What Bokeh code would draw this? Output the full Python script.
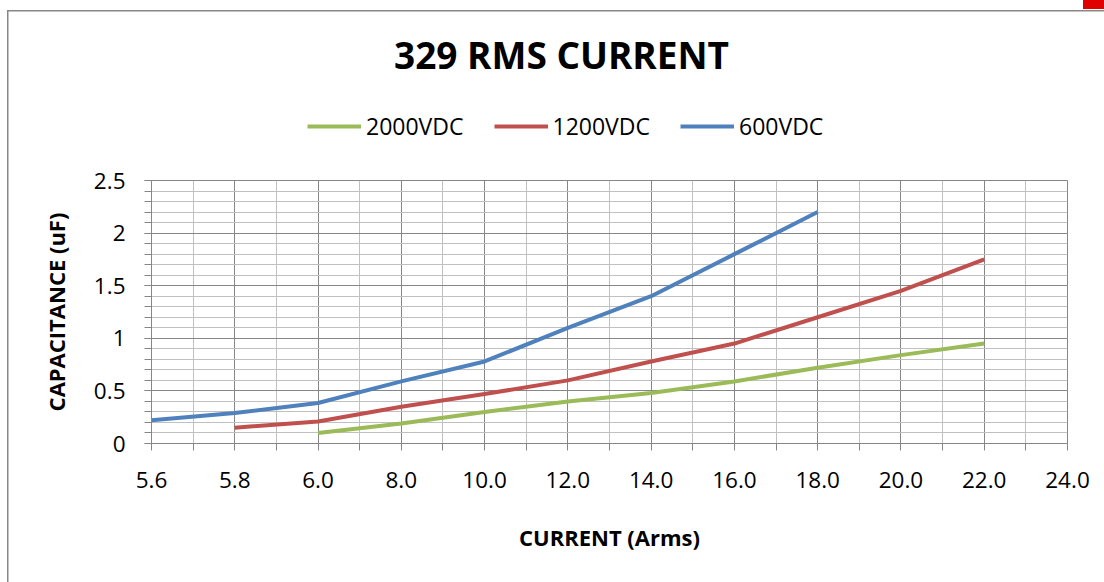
from bokeh.plotting import figure
from bokeh.layouts import column
from bokeh.models import (ColumnDataSource, Range1d, FixedTicker, NumeralTickFormatter,
                          Legend, LegendItem, Label)
from bokeh.embed import file_html
from bokeh.resources import INLINE

# ---- data ----
categories = ["5.6", "5.8", "6.0", "8.0", "10.0", "12.0", "14.0", "16.0", "18.0", "20.0", "22.0", "24.0"]
nan = float("nan")
vdc2000 = [nan, nan, 0.10, 0.19, 0.30, 0.40, 0.48, 0.59, 0.72, 0.84, 0.95, nan]
vdc1200 = [nan, 0.15, 0.21, 0.35, 0.47, 0.60, 0.78, 0.95, 1.20, 1.45, 1.75, nan]
vdc600 = [0.22, 0.29, 0.385, 0.59, 0.78, 1.10, 1.40, 1.80, 2.20, nan, nan, nan]
y_ticks = [0, 0.5, 1.0, 1.5, 2.0, 2.5]
series_names = ["2000VDC", "1200VDC", "600VDC"]
series_colors = ["#9BBB59", "#C0504D", "#4F81BD"]
title_text = "329 RMS CURRENT"
x_title = "CURRENT (Arms)"
y_title = "CAPACITANCE (uF)"

FONT = "Open Sans"
MAJOR = "#868686"
MINOR = "#C0C0C0"
LW = 4
FRAME_LEFT = 151

# ---------------- header (title + legend) ----------------
HEAD_H = 160
head = figure(width=1104, height=HEAD_H, output_backend="svg", toolbar_location=None,
              x_axis_type=None, y_axis_type=None,
              x_range=Range1d(0, 1104), y_range=Range1d(0, HEAD_H),
              min_border=0, min_border_left=0, min_border_right=0,
              min_border_top=0, min_border_bottom=0)
head.grid.visible = False
head.outline_line_color = None
head.background_fill_alpha = 0
head.border_fill_alpha = 0

# legend-only renderers (a single empty point, nothing is drawn in the header itself)
leg_renderers = [head.line(x=[nan], y=[nan], line_color=c, line_width=LW) for c in series_colors]
legend = Legend(items=[LegendItem(label=n, renderers=[r]) for n, r in zip(series_names, leg_renderers)],
                orientation="horizontal", location=(307 - FRAME_LEFT, 18.5),
                glyph_width=54, glyph_height=20, label_standoff=5, spacing=30,
                padding=0, margin=0, border_line_color=None, background_fill_alpha=0,
                label_text_font=FONT, label_text_font_size="23px", label_text_color="black",
                label_height=20)
head.add_layout(legend, "center")
head.add_layout(Label(x=561 - FRAME_LEFT, y=HEAD_H - 54, x_units="screen", y_units="screen",
                      text=title_text, text_font=FONT, text_font_style="bold", text_font_size="37px",
                      text_align="center", text_baseline="middle", text_color="black"))

# ---------------- main chart ----------------
xs = list(range(len(categories)))
src = ColumnDataSource(dict(x=xs, a=vdc2000, b=vdc1200, c=vdc600))

p = figure(width=1104, height=582 - HEAD_H, output_backend="svg", toolbar_location=None,
           x_range=Range1d(0, len(categories) - 1), y_range=Range1d(0, 2.5),
           min_border_left=FRAME_LEFT, min_border_right=37, min_border_top=20, min_border_bottom=139)
p.background_fill_color = "white"
p.border_fill_alpha = 0
p.outline_line_color = MAJOR

p.xaxis.ticker = FixedTicker(ticks=xs, minor_ticks=[i + 0.5 for i in xs[:-1]])
p.xaxis.major_label_overrides = {i: c for i, c in zip(xs, categories)}
p.yaxis.ticker = FixedTicker(ticks=y_ticks, minor_ticks=[round(i * 0.1, 2) for i in range(26)])
p.yaxis.formatter = NumeralTickFormatter(format="0.[0]")
for ax in (p.xaxis[0], p.yaxis[0]):
    ax.axis_line_color = MAJOR
    ax.major_tick_line_color = MAJOR
    ax.minor_tick_line_color = MAJOR
    ax.major_tick_in = 0
    ax.major_tick_out = 7
    ax.minor_tick_in = 0
    ax.minor_tick_out = 7
    ax.major_label_text_font = FONT
    ax.major_label_text_font_size = "22.5px"
    ax.major_label_text_color = "black"
    ax.axis_label_text_font = FONT
    ax.axis_label_text_font_style = "bold"
    ax.axis_label_text_font_size = "22px"
    ax.axis_label_text_color = "black"
p.yaxis.major_label_standoff = 19
p.xaxis.major_label_standoff = 21
p.yaxis.axis_label = y_title
p.xaxis.axis_label = x_title
p.yaxis.axis_label_standoff = 20
p.xaxis.axis_label_standoff = 31

for g in (p.xgrid[0], p.ygrid[0]):
    g.grid_line_color = MAJOR
    g.grid_line_width = 1
    g.minor_grid_line_color = MINOR
    g.minor_grid_line_width = 1
    g.level = "underlay"

for col, color in zip(["a", "b", "c"], series_colors):
    p.line("x", col, source=src, line_color=color, line_width=LW, line_join="round")

layout = column(head, p, spacing=0)
# chart-area border (top/left edges are in view) and the red corner mark, painted behind
layout.styles = {
    "background": ("linear-gradient(#878787,#878787) 7px 10px / 2000px 1.5px no-repeat, "
                   "linear-gradient(#878787,#878787) 7px 10px / 1.5px 2000px no-repeat, "
                   "linear-gradient(#E00000,#E00000) 1083px 0px / 30px 9px no-repeat, white")
}

open("out.html", "w").write(file_html(layout, INLINE))
